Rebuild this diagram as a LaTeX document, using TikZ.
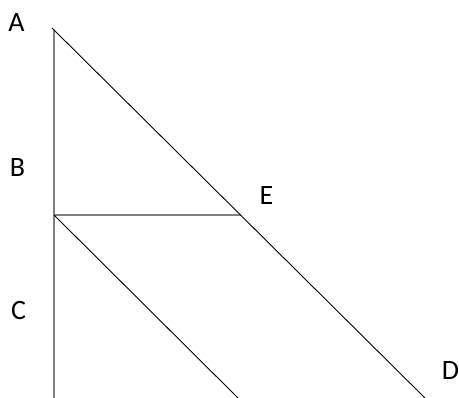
\documentclass[tikz,border=0pt]{standalone}
\usepackage{fontspec}
\setmainfont{Carlito}
\begin{document}
\begin{tikzpicture}[x=1pt,y=-1pt,
  lbl/.style={inner sep=0pt,font=\fontsize{28}{30}\selectfont},
  grayline/.style={draw={rgb,255:red,128;green,128;blue,128},line width=1.3pt},
  blackline/.style={draw=black,line width=0.9pt}]
\useasboundingbox (0,0) rectangle (459,398);
\coordinate (top) at (54,29);
\coordinate (diagA) at (52,28);
\coordinate (mid) at (54,215);
\coordinate (bot) at (54,398);
\coordinate (Ept) at (241,215);
\coordinate (Dpt) at (425,398);
\coordinate (Fpt) at (238,398);
\draw[grayline] (top) -- (bot);
\draw[grayline] (mid) -- (Ept);
\draw[blackline] (diagA) -- (Dpt);
\draw[blackline] (mid) -- (Fpt);
\node[lbl] (A) at (16.5,22.5) {A};
\node[lbl] (B) at (17.5,167.5) {B};
\node[lbl] (C) at (18.5,311) {C};
\node[lbl] (E) at (266.5,196) {E};
\node[lbl] (D) at (450.5,371) {D};
\end{tikzpicture}
\end{document}
